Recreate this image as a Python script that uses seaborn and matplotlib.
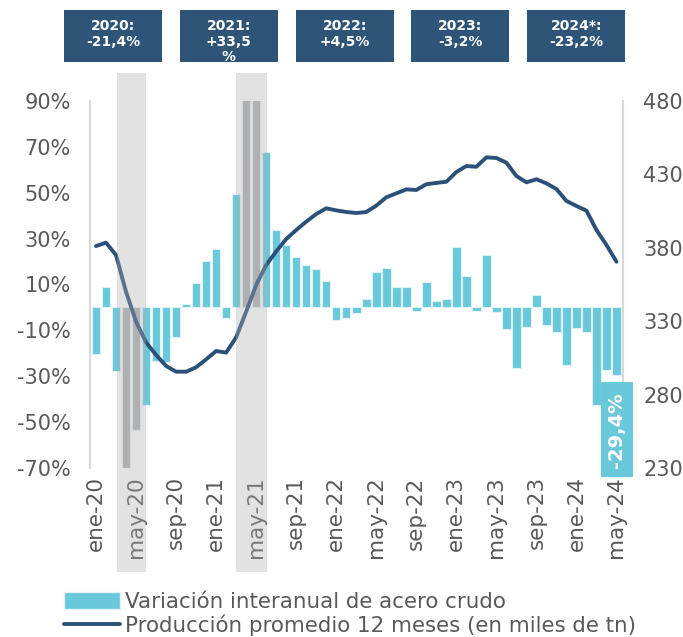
import numpy as np
import pandas as pd
import matplotlib
matplotlib.use("Agg")
import matplotlib.pyplot as plt
import matplotlib.transforms as mtransforms
from matplotlib.patches import Rectangle, Patch
from matplotlib.lines import Line2D
import seaborn as sns

# datos
meses = ["ene", "feb", "mar", "abr", "may", "jun", "jul", "ago", "sep", "oct", "nov", "dic"]
categorias = [f"{m}-{a}" for a in ["20", "21", "22", "23", "24"] for m in meses][:53]

variacion = [-20.5, 9.0, -27.8, -71.4, -53.5, -42.6, -23.4, -23.8, -12.9, 1.3, 10.5, 20.2,
             25.6, -4.8, 49.3, 200.0, 110.0, 67.7, 33.6, 27.2, 22.1, 18.3, 16.6, 11.5,
             -5.5, -4.8, -2.6, 3.5, 15.4, 17.0, 8.7, 8.7, -1.6, 11.2, 2.9, 3.8,
             26.3, 13.6, -1.6, 22.7, -1.9, -9.6, -26.3, -8.4, 5.5, -7.8, -10.8, -25.3,
             -8.9, -10.6, -42.4, -27.3, -29.4]

produccion = [381.2, 383.5, 375.1, 350.0, 329.7, 315.6, 307.0, 299.5, 295.6, 295.6, 298.6, 304.0,
              309.7, 308.6, 319.0, 336.5, 354.7, 368.3, 377.5, 386.0, 392.1, 397.8, 403.0, 406.9,
              405.5, 404.4, 403.7, 404.4, 408.7, 414.4, 417.1, 419.8, 419.4, 423.3, 424.2, 425.0,
              431.6, 435.7, 435.2, 441.6, 441.2, 438.0, 428.9, 424.6, 426.7, 423.9, 420.0, 411.9,
              408.5, 405.3, 392.1, 381.9, 370.5]

destacados = ["abr-20", "may-20", "abr-21", "may-21"]
tick_labels = ["ene-20", "may-20", "sep-20", "ene-21", "may-21", "sep-21", "ene-22",
               "may-22", "sep-22", "ene-23", "may-23", "sep-23", "ene-24", "may-24"]
pct_ticks = [90, 70, 50, 30, 10, -10, -30, -50, -70]
prod_ticks = [480, 430, 380, 330, 280, 230]
resumen_anual = ["2020:\n-21,4%", "2021:\n+33,5\n%", "2022:\n+4,5%", "2023:\n-3,2%", "2024*:\n-23,2%"]
ultimo_dato = "-29,4%"
leyenda = ["Variación interanual de acero crudo", "Producción promedio 12 meses (en miles de tn)"]

CIAN = "#69C8DA"
GRIS = "#B0B0B0"
AZUL = "#2B5079"
TEXTO = "#595959"

df = pd.DataFrame({"mes": categorias, "variacion": variacion, "produccion": produccion})
df["pos"] = np.arange(len(df))
df["grupo"] = np.where(df["mes"].isin(destacados), "destacado", "normal")

sns.set_style("white")
plt.rcParams["font.family"] = ["DejaVu Sans"]

W, H = 683, 637
fig = plt.figure(figsize=(W / 100, H / 100), dpi=100)
ax = fig.add_axes([90 / W, 1 - 468 / H, (622.5 - 90) / W, 367 / H])

sns.barplot(data=df, x="pos", y="variacion", hue="grupo", native_scale=True,
            palette={"normal": CIAN, "destacado": GRIS}, saturation=1, legend=False,
            width=0.85, edgecolor="#dff3f7", linewidth=0.8, ax=ax)
ax.set_ylim(-70, 90)
ax.set_xlim(-0.6, 52.6)

ax2 = ax.twinx()
sns.lineplot(data=df, x="pos", y="produccion", color=AZUL, linewidth=2.8, ax=ax2)

# cuadro del último dato
ax2.add_patch(Rectangle((50.47, -74.1), 3.13, 41.4, transform=ax.transData,
                        facecolor=CIAN, edgecolor="none", clip_on=False, zorder=9))
ax2.text(52.03, -53.4, ultimo_dato, transform=ax.transData, rotation=90,
         ha="center", va="center", color="white", fontweight="bold", fontsize=14,
         clip_on=False, zorder=10)
ax2.set_ylim(230, 480)
ax2.set_xlim(-0.6, 52.6)

# ejes
ax.set_xticks([categorias.index(t) for t in tick_labels])
ax.set_xticklabels(tick_labels, rotation=90)
ax.set_yticks(pct_ticks)
ax.set_yticklabels([f"{v}%" for v in pct_ticks])
ax2.set_yticks(prod_ticks)
ax2.set_yticklabels([str(v) for v in prod_ticks])
ax.set_xlabel("")
ax.set_ylabel("")
ax2.set_ylabel("")
ax.tick_params(axis="x", length=0, pad=6, labelsize=15.5, labelcolor=TEXTO)
ax.tick_params(axis="y", length=0, pad=14, labelsize=15, labelcolor=TEXTO)
ax2.tick_params(axis="y", length=0, pad=15, labelsize=15, labelcolor=TEXTO)

for s in ["top", "bottom", "right"]:
    ax.spines[s].set_visible(False)
ax.spines["left"].set_color("#D9D9D9")
ax.spines["left"].set_linewidth(1.5)
for s in ["top", "bottom", "left"]:
    ax2.spines[s].set_visible(False)
ax2.spines["right"].set_color("#D9D9D9")
ax2.spines["right"].set_linewidth(1.5)

# bandas grises (abril-mayo 2020 y 2021)
trans = mtransforms.blended_transform_factory(ax.transData, fig.transFigure)
for a, b in [(2.13, 4.96), (13.97, 17.04)]:
    fig.add_artist(Rectangle((a, 1 - 572 / H), b - a, (572 - 73) / H, transform=trans,
                             facecolor=GRIS, alpha=0.36, edgecolor="none", zorder=5))

# cuadros anuales
for i, txt in enumerate(resumen_anual):
    x0 = (64 + i * 115.8) / W
    fig.add_artist(Rectangle((x0, 1 - 62 / H), 98 / W, 52 / H, transform=fig.transFigure,
                             facecolor="#2E5478", edgecolor="none"))
    fig.text(x0 + 49 / W, 1 - 19 / H, txt, ha="center", va="top", color="white",
             fontweight="bold", fontsize=10, linespacing=1.15)

# leyenda
handles = [Patch(facecolor=CIAN, edgecolor="#dff3f7"), Line2D([], [], color=AZUL, linewidth=2.8)]
fig.legend(handles, leyenda, loc="upper left", bbox_to_anchor=(64 / W, 1 - 592 / H),
           frameon=False, fontsize=15.4, handlelength=2.6, handleheight=0.85,
           handletextpad=0.25, labelspacing=0.12, borderaxespad=0, borderpad=0,
           labelcolor=TEXTO)

fig.savefig("out.png", dpi=100)
